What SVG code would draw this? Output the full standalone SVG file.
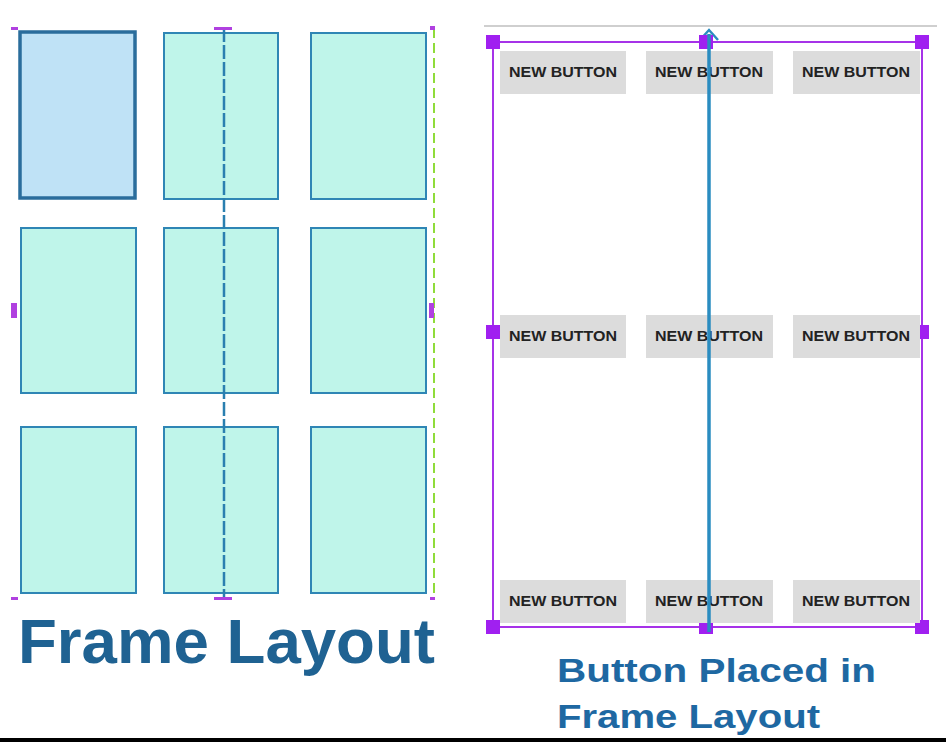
<svg xmlns="http://www.w3.org/2000/svg" width="946" height="742" viewBox="0 0 946 742">
<style>
.cell{fill:#bff5ea;stroke:#2f86b5;stroke-width:2}
.sel{fill:#bfe2f6;stroke:#2a6d9c;stroke-width:3.5}
.mk{fill:#b040e0}
.btn{fill:#dcdcdc}
.bt{font-family:"Liberation Sans",Arial,sans-serif;font-weight:bold;font-size:15.5px;fill:#222}
.h{fill:#a020f0}
.title{font-family:"Liberation Sans",Arial,sans-serif;font-weight:bold;fill:#1f6292}
</style>
<rect width="946" height="742" fill="#fff"/>
<g id="left-grid">
<rect id="c11" class="sel" x="20" y="32" width="115" height="166"/>
<rect id="c12" class="cell" x="164" y="33" width="114" height="166"/>
<rect id="c13" class="cell" x="311" y="33" width="115" height="166"/>
<rect id="c21" class="cell" x="21" y="228" width="115" height="165"/>
<rect id="c22" class="cell" x="164" y="228" width="114" height="165"/>
<rect id="c23" class="cell" x="311" y="228" width="115" height="165"/>
<rect id="c31" class="cell" x="21" y="427" width="115" height="166"/>
<rect id="c32" class="cell" x="164" y="427" width="114" height="166"/>
<rect id="c33" class="cell" x="311" y="427" width="115" height="166"/>
</g>
<g id="connectors">
<line x1="224" y1="28" x2="224" y2="600" stroke="#2a7fb0" stroke-width="2.5" stroke-dasharray="14,3"/>
<line x1="434" y1="28" x2="434" y2="600" stroke="#8fdc3a" stroke-width="2" stroke-dasharray="10,5"/>
<polyline points="700,40 709,30 718,40" fill="none" stroke="#2a8cc0" stroke-width="2.5"/>
</g>
<g id="left-markers">
<rect class="mk" x="11" y="27" width="7" height="3"/>
<rect class="mk" x="214" y="27" width="18" height="3"/>
<rect class="mk" x="430" y="26" width="5" height="4"/>
<rect class="mk" x="11" y="303" width="6" height="15"/>
<rect class="mk" x="429" y="303" width="5" height="15"/>
<rect class="mk" x="11" y="597" width="7" height="3"/>
<rect class="mk" x="214" y="597" width="18" height="3"/>
<rect class="mk" x="430" y="597" width="5" height="3"/>
</g>
<text id="left-title" class="title" x="18" y="663" font-size="63" textLength="417" lengthAdjust="spacingAndGlyphs">Frame Layout</text>
<line x1="484" y1="26" x2="937" y2="26" stroke="#cfcfcf" stroke-width="2"/>
<g id="frame">
<rect x="493" y="42" width="429" height="585" fill="none" stroke="#a632e8" stroke-width="2"/>
<rect class="h" x="486" y="35" width="14" height="14"/>
<rect class="h" x="699" y="35" width="14" height="14"/>
<rect class="h" x="915" y="35" width="14" height="14"/>
<rect class="h" x="486" y="325" width="14" height="14"/>
<rect class="h" x="915" y="325" width="14" height="14"/>
<rect class="h" x="486" y="620" width="14" height="14"/>
<rect class="h" x="699" y="620" width="14" height="14"/>
<rect class="h" x="915" y="620" width="14" height="14"/>
</g>
<g id="b11"><rect class="btn" x="500" y="51" width="126" height="43"/><text class="bt" x="509" y="77" textLength="108" lengthAdjust="spacingAndGlyphs">NEW BUTTON</text></g>
<g id="b12"><rect class="btn" x="646" y="51" width="127" height="43"/><text class="bt" x="655" y="77" textLength="108" lengthAdjust="spacingAndGlyphs">NEW BUTTON</text></g>
<g id="b13"><rect class="btn" x="793" y="51" width="127" height="43"/><text class="bt" x="802" y="77" textLength="108" lengthAdjust="spacingAndGlyphs">NEW BUTTON</text></g>
<g id="b21"><rect class="btn" x="500" y="315" width="126" height="43"/><text class="bt" x="509" y="341" textLength="108" lengthAdjust="spacingAndGlyphs">NEW BUTTON</text></g>
<g id="b22"><rect class="btn" x="646" y="315" width="127" height="43"/><text class="bt" x="655" y="341" textLength="108" lengthAdjust="spacingAndGlyphs">NEW BUTTON</text></g>
<g id="b23"><rect class="btn" x="793" y="315" width="127" height="43"/><text class="bt" x="802" y="341" textLength="108" lengthAdjust="spacingAndGlyphs">NEW BUTTON</text></g>
<g id="b31"><rect class="btn" x="500" y="580" width="126" height="43"/><text class="bt" x="509" y="606" textLength="108" lengthAdjust="spacingAndGlyphs">NEW BUTTON</text></g>
<g id="b32"><rect class="btn" x="646" y="580" width="127" height="43"/><text class="bt" x="655" y="606" textLength="108" lengthAdjust="spacingAndGlyphs">NEW BUTTON</text></g>
<g id="b33"><rect class="btn" x="793" y="580" width="127" height="43"/><text class="bt" x="802" y="606" textLength="108" lengthAdjust="spacingAndGlyphs">NEW BUTTON</text></g>
<line id="center-guide" x1="709" y1="34" x2="709" y2="632" stroke="#2a8cc0" stroke-width="3.5"/>
<text id="right-title" class="title" font-size="34" fill="#1e68a2" style="fill:#1e68a2"><tspan x="557" y="682" textLength="319" lengthAdjust="spacingAndGlyphs">Button Placed in</tspan><tspan x="557" y="728" textLength="263" lengthAdjust="spacingAndGlyphs">Frame Layout</tspan></text>
<rect x="0" y="738" width="946" height="4" fill="#000"/>
</svg>
